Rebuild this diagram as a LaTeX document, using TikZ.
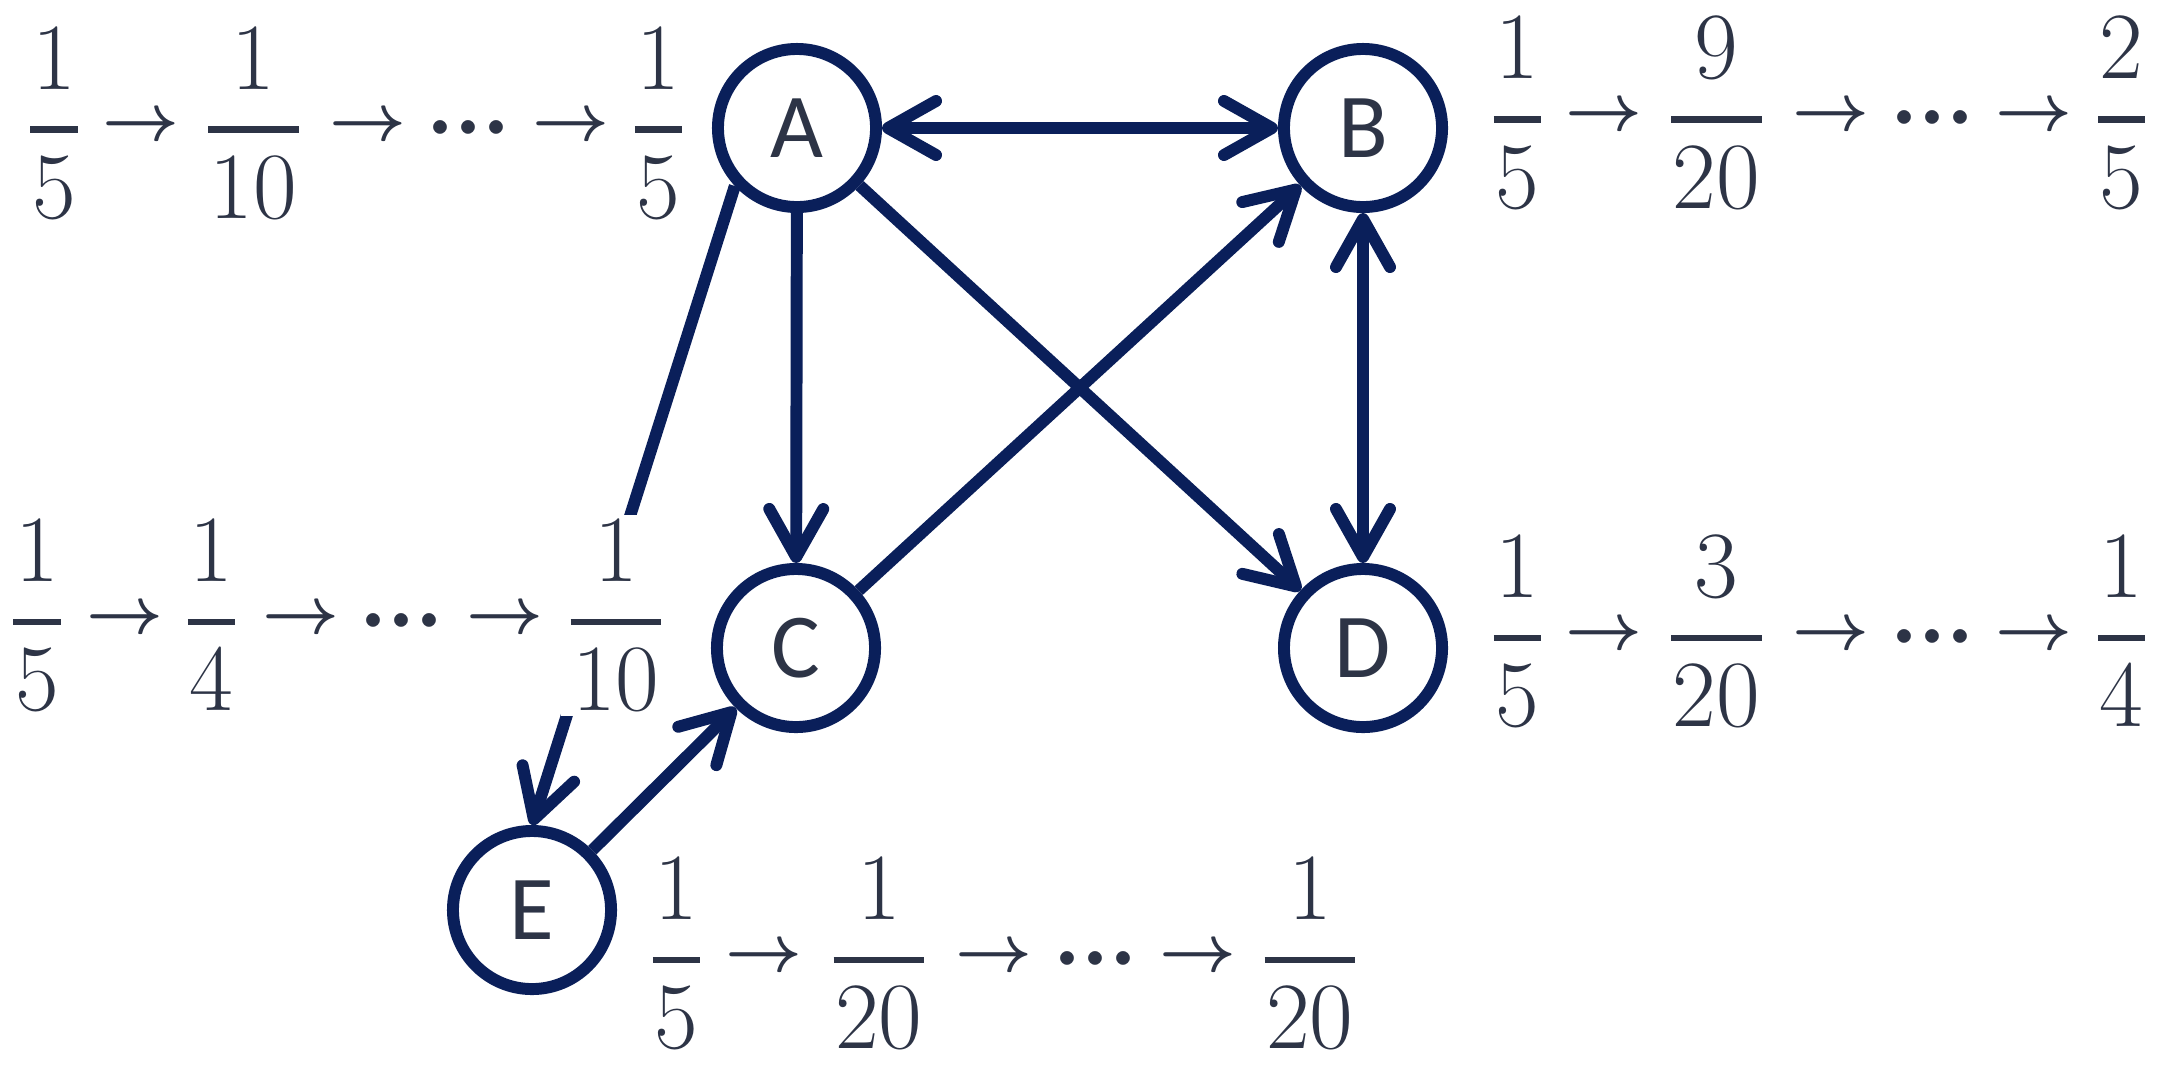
\RequirePackage{fix-cm}
\documentclass[tikz,border=0pt]{standalone}
\usepackage{amsmath}
\usepackage{fontspec}
\newfontfamily\carl{Carlito}
\usetikzlibrary{arrows.meta}
\definecolor{navy}{HTML}{0A1F5A}
\definecolor{txt}{HTML}{2D3446}
\newcommand\vc[1]{$\vcenter{\hbox{$\displaystyle #1$}}$}
\newcommand\fq[2]{\vc{\genfrac{}{}{1.8pt}{0}{\kern0.5pt#1\kern0.5pt}{\kern0.5pt#2\kern0.5pt}}}
\newcommand\ra{\vc{\boldsymbol{\rightarrow}}}
\newcommand\dd{\vc{\boldsymbol{\mathord{\cdotp}\mathord{\cdotp}\mathord{\cdotp}}}}
\tikzset{
  sb/.tip={Straight Barb[length=4.8mm,width=5.4mm,round]},
}
\begin{document}
\begin{tikzpicture}[x=0.01cm,y=-0.01cm,
  state/.style={circle,draw=navy,line width=3.4pt,minimum size=1.58cm,inner sep=0pt,text=txt,font=\carl\fontsize{26}{26}\selectfont},
  fr/.style={inner sep=1.5pt,fill=white,text=txt,yshift=1.8pt,font=\fontsize{27}{32}\selectfont},
  ar/.style={inner sep=0pt,text=txt,font=\fontsize{19}{20}\selectfont},
  dt/.style={inner sep=0pt,text=txt,font=\fontsize{25}{28}\selectfont},
  ln/.style={draw=navy,line width=3.4pt},
  edge/.style={ln,-sb},
]
\useasboundingbox (0,0) rectangle (2170,1072);
% states
\node[state] (A) at (797,128) {A};
\node[state] (B) at (1363,128) {B};
\node[state] (C) at (796,648) {C};
\node[state] (D) at (1363,648) {D};
\node[state] (E) at (532,910) {E};
% A -> E (passes behind the 1/10 label)
\draw[edge] (A.223) -- (E.north);
% row A
\node[fr] (a1) at (54,129.5) {\fq{1}{5}};
\node[ar] (a2) at (141,129.5) {\ra};
\node[fr] (a3) at (253.5,129.5) {\fq{1}{10}};
\node[ar] (a4) at (367.5,129.5) {\ra};
\node[dt] (a5) at (469,129.5) {\dd};
\node[ar] (a6) at (571,129.5) {\ra};
\node[fr] (a7) at (658.5,129.5) {\fq{1}{5}};
% row B
\node[fr] (b1) at (1517.5,119.4) {\fq{1}{5}};
\node[ar] (b2) at (1604,119.4) {\ra};
\node[fr] (b3) at (1716.5,119.4) {\fq{9}{20}};
\node[ar] (b4) at (1831,119.4) {\ra};
\node[dt] (b5) at (1933,119.4) {\dd};
\node[ar] (b6) at (2034,119.4) {\ra};
\node[fr] (b7) at (2121.5,119.4) {\fq{2}{5}};
% row C
\node[fr] (c1) at (37,622) {\fq{1}{5}};
\node[ar] (c2) at (124.6,622) {\ra};
\node[fr] (c3) at (211.5,622) {\fq{1}{4}};
\node[ar] (c4) at (301,622) {\ra};
\node[dt] (c5) at (402,622) {\dd};
\node[ar] (c6) at (505,622) {\ra};
\node[fr] (c7) at (616,622) {\fq{1}{10}};
% row D
\node[fr] (d1) at (1517.5,638) {\fq{1}{5}};
\node[ar] (d2) at (1604,638) {\ra};
\node[fr] (d3) at (1716.5,638) {\fq{3}{20}};
\node[ar] (d4) at (1831,638) {\ra};
\node[dt] (d5) at (1933,638) {\dd};
\node[ar] (d6) at (2034,638) {\ra};
\node[fr] (d7) at (2121.5,638) {\fq{1}{4}};
% row E
\node[fr] (e1) at (676.5,960) {\fq{1}{5}};
\node[ar] (e2) at (763.5,960) {\ra};
\node[fr] (e3) at (879,960) {\fq{1}{20}};
\node[ar] (e4) at (994,960) {\ra};
\node[dt] (e5) at (1096,960) {\dd};
\node[ar] (e6) at (1198,960) {\ra};
\node[fr] (e7) at (1310,960) {\fq{1}{20}};
% edges
\draw[ln,sb-sb] (A) -- (B);
\draw[edge] (A) -- (C);
\draw[edge] (A) -- (D);
\draw[edge] (C) -- (B);
\draw[ln,sb-sb] (B) -- (D);
\draw[edge] (E) -- (C);
\end{tikzpicture}
\end{document}
